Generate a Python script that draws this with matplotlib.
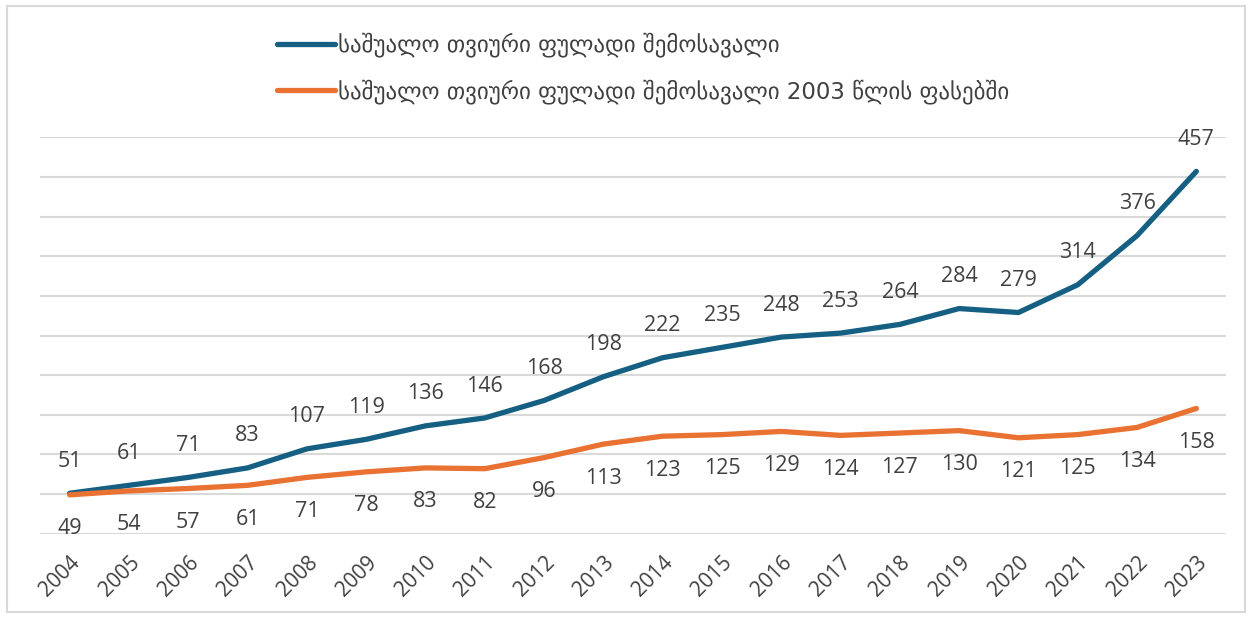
import matplotlib
matplotlib.use("Agg")
import matplotlib.pyplot as plt
from matplotlib.patches import Rectangle

years = [str(y) for y in range(2004, 2024)]
income_nominal = [51, 61, 71, 83, 107, 119, 136, 146, 168, 198, 222, 235, 248, 253, 264, 284, 279, 314, 376, 457]
income_real = [49, 54, 57, 61, 71, 78, 83, 82, 96, 113, 123, 125, 129, 124, 127, 130, 121, 125, 134, 158]
label_nominal = "საშუალო თვიური ფულადი შემოსავალი"
label_real = "საშუალო თვიური ფულადი შემოსავალი 2003 წლის ფასებში"

BLUE = "#156082"
ORANGE = "#E97132"
TXT = "#404040"
FAM = ["Open Sans", "DejaVu Sans"]

plt.rcParams['font.family'] = FAM

W, H = 1252, 618
fig = plt.figure(figsize=(W / 100, H / 100), dpi=100)
ax = fig.add_axes([40 / W, 1 - 533.7 / H, (1226 - 40) / W, (533.7 - 137.3) / H])

x = list(range(len(years)))
ax.plot(x, income_nominal, color=BLUE, lw=3.8, solid_capstyle='round', label=label_nominal, zorder=3)
ax.plot(x, income_real, color=ORANGE, lw=3.8, solid_capstyle='round', label=label_real, zorder=3)

for xi, v in zip(x, income_nominal):
    ax.annotate(str(v), (xi, v), xytext=(0, 23), textcoords='offset points',
                ha='center', va='center', fontsize=15.5, color=TXT)
for xi, v in zip(x, income_real):
    ax.annotate(str(v), (xi, v), xytext=(0, -24.5), textcoords='offset points',
                ha='center', va='center', fontsize=15.5, color=TXT)

ax.set_xlim(-0.5, len(years) - 0.5)
ax.set_ylim(0, 500)
ax.set_yticks(range(0, 501, 50))
ax.set_yticklabels([])
ax.yaxis.grid(True, color="#d9d9d9", lw=1.5)
ax.set_axisbelow(True)
ax.tick_params(axis='both', length=0)
ax.set_xticks(x)
ax.set_xticklabels(years, rotation=45, ha='right', va='top', rotation_mode='anchor',
                   fontsize=15, color=TXT)
ax.tick_params(axis='x', pad=13)
for s in ax.spines.values():
    s.set_visible(False)

leg = fig.legend(loc='center left', bbox_to_anchor=(266 / W, 1 - 68 / H), frameon=False,
                 fontsize=16.5, handlelength=2.5, handletextpad=0.12, labelspacing=0.95,
                 borderpad=0, labelcolor=TXT)
for t in leg.get_texts():
    t.set_family(["DejaVu Sans"])

fig.patches.append(Rectangle((7 / W, 6 / H), (1245 - 7) / W, (612 - 6) / H, transform=fig.transFigure,
                             fill=False, edgecolor="#d9d9d9", lw=1.5))

fig.savefig("out.png", dpi=100)
